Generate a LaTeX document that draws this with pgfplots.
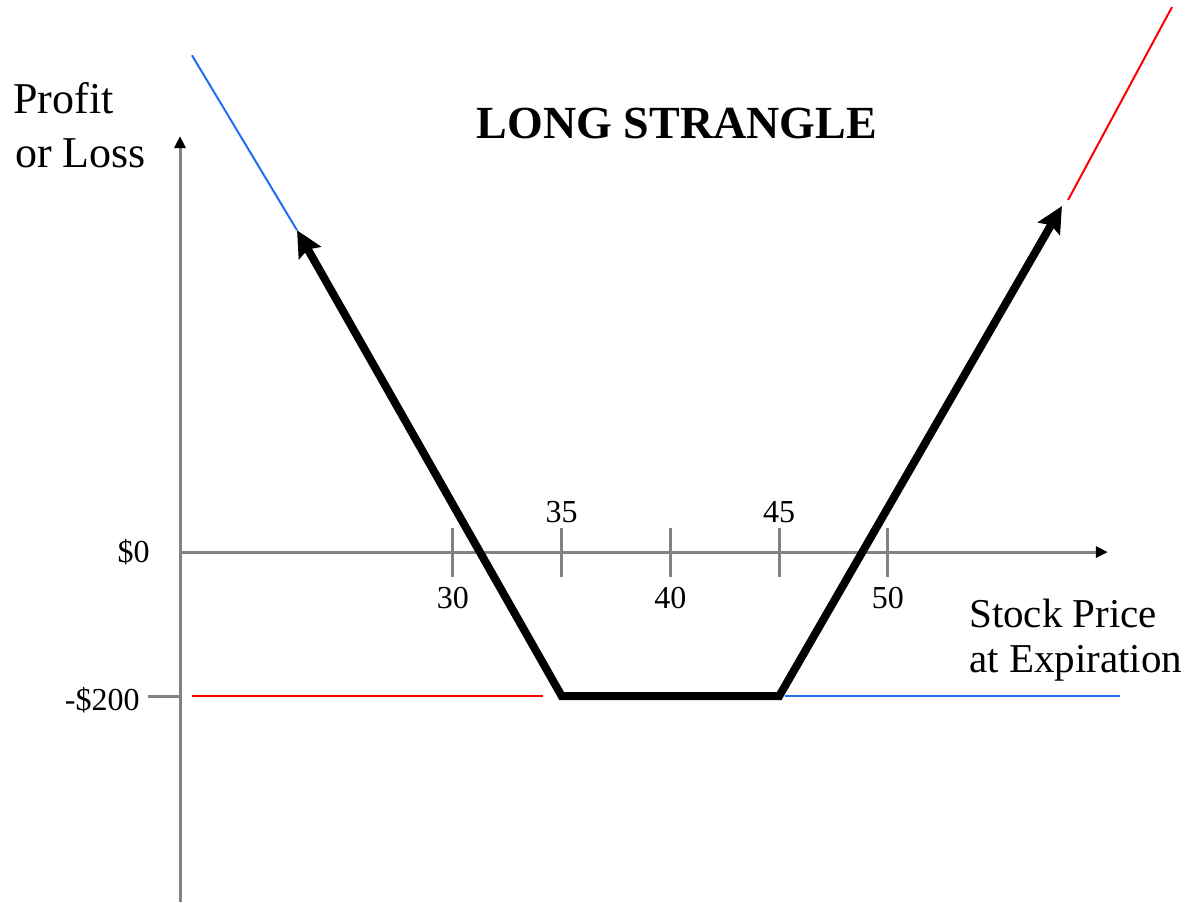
\documentclass[border=0pt]{standalone}
\usepackage{pgfplots}
\pgfplotsset{compat=1.18}
\usepackage{fontspec}
\setmainfont{Liberation Serif}
\usetikzlibrary{arrows.meta}

\definecolor{axisgray}{RGB}{130,130,130}
\definecolor{putblue}{RGB}{30,110,240}
\definecolor{callred}{RGB}{255,0,0}

\begin{document}
\begin{tikzpicture}
\useasboundingbox (0,0) rectangle (594pt,451pt);
\begin{axis}[
  at={(90pt,0pt)}, anchor=south west,
  x=10.875pt, y=0.36pt,
  xmin=17.45, xmax=60.11, ymin=-486, ymax=577.8,
  axis lines=none, ticks=none, clip=false,
]
% axes
\draw[axisgray, line width=1.5pt, -{Triangle[length=6pt,width=5.5pt,color=black]}]
  (axis cs:17.45,-486) -- (axis cs:17.45,577.8);
\draw[axisgray, line width=1.5pt, -{Triangle[length=6pt,width=5.5pt,color=black]}]
  (axis cs:17.45,0) -- (axis cs:60.11,0);
% x ticks
\pgfplotsinvokeforeach{30,35,40,45,50}{
  \draw[axisgray, line width=1.5pt] (axis cs:#1,33) -- (axis cs:#1,-35);
}
% y tick at -200
\draw[axisgray, line width=1.5pt] (axis cs:15.98,-200) -- (axis cs:17.45,-200);

% tick labels
\begin{scope}[every node/.style={font=\fontsize{16}{18}\selectfont, inner sep=0pt}]
\node at (axis cs:30,-64) {30};
\node at (axis cs:40,-64) {40};
\node at (axis cs:50,-64) {50};
\node at (axis cs:35,56) {35};
\node at (axis cs:45,56) {45};
\node[anchor=east] at (axis cs:16.07,0) {\$0};
\node[anchor=east] at (axis cs:15.61,-205) {-\$200};
\end{scope}

% put and call legs
\addplot[putblue, line width=1pt] coordinates {(18.0,690) (22.83,447)};
\addplot[putblue, line width=1pt] coordinates {(45.26,-200) (60.67,-200)};
\addplot[callred, line width=1pt] coordinates {(18.0,-200) (34.14,-200)};
\addplot[callred, line width=1pt] coordinates {(58.28,489) (63.06,757)};

% long strangle payoff
\addplot[black, line width=4pt, line join=miter,
  {Stealth[length=13pt,width=12.5pt,inset=2pt]}-{Stealth[length=13pt,width=12.5pt,inset=2pt]}]
  coordinates {(22.83,447) (35,-200) (45,-200) (58.0,480.6)};

% titles
\node[anchor=base, font=\fontsize{23}{27}\selectfont\bfseries] at (axis cs:40.3,575) {LONG STRANGLE};
\node[anchor=base west, inner sep=0pt, font=\fontsize{22}{26}\selectfont] at (axis cs:9.77,609.7) {Profit};
\node[anchor=base west, inner sep=0pt, font=\fontsize{22}{26}\selectfont] at (axis cs:9.86,534.7) {or Loss};
\node[anchor=base west, inner sep=0pt, font=\fontsize{20.5}{24}\selectfont] at (axis cs:53.72,-104.2) {Stock Price};
\node[anchor=base west, inner sep=0pt, font=\fontsize{20.5}{24}\selectfont] at (axis cs:53.72,-166.7) {at Expiration};
\end{axis}
\end{tikzpicture}
\end{document}
